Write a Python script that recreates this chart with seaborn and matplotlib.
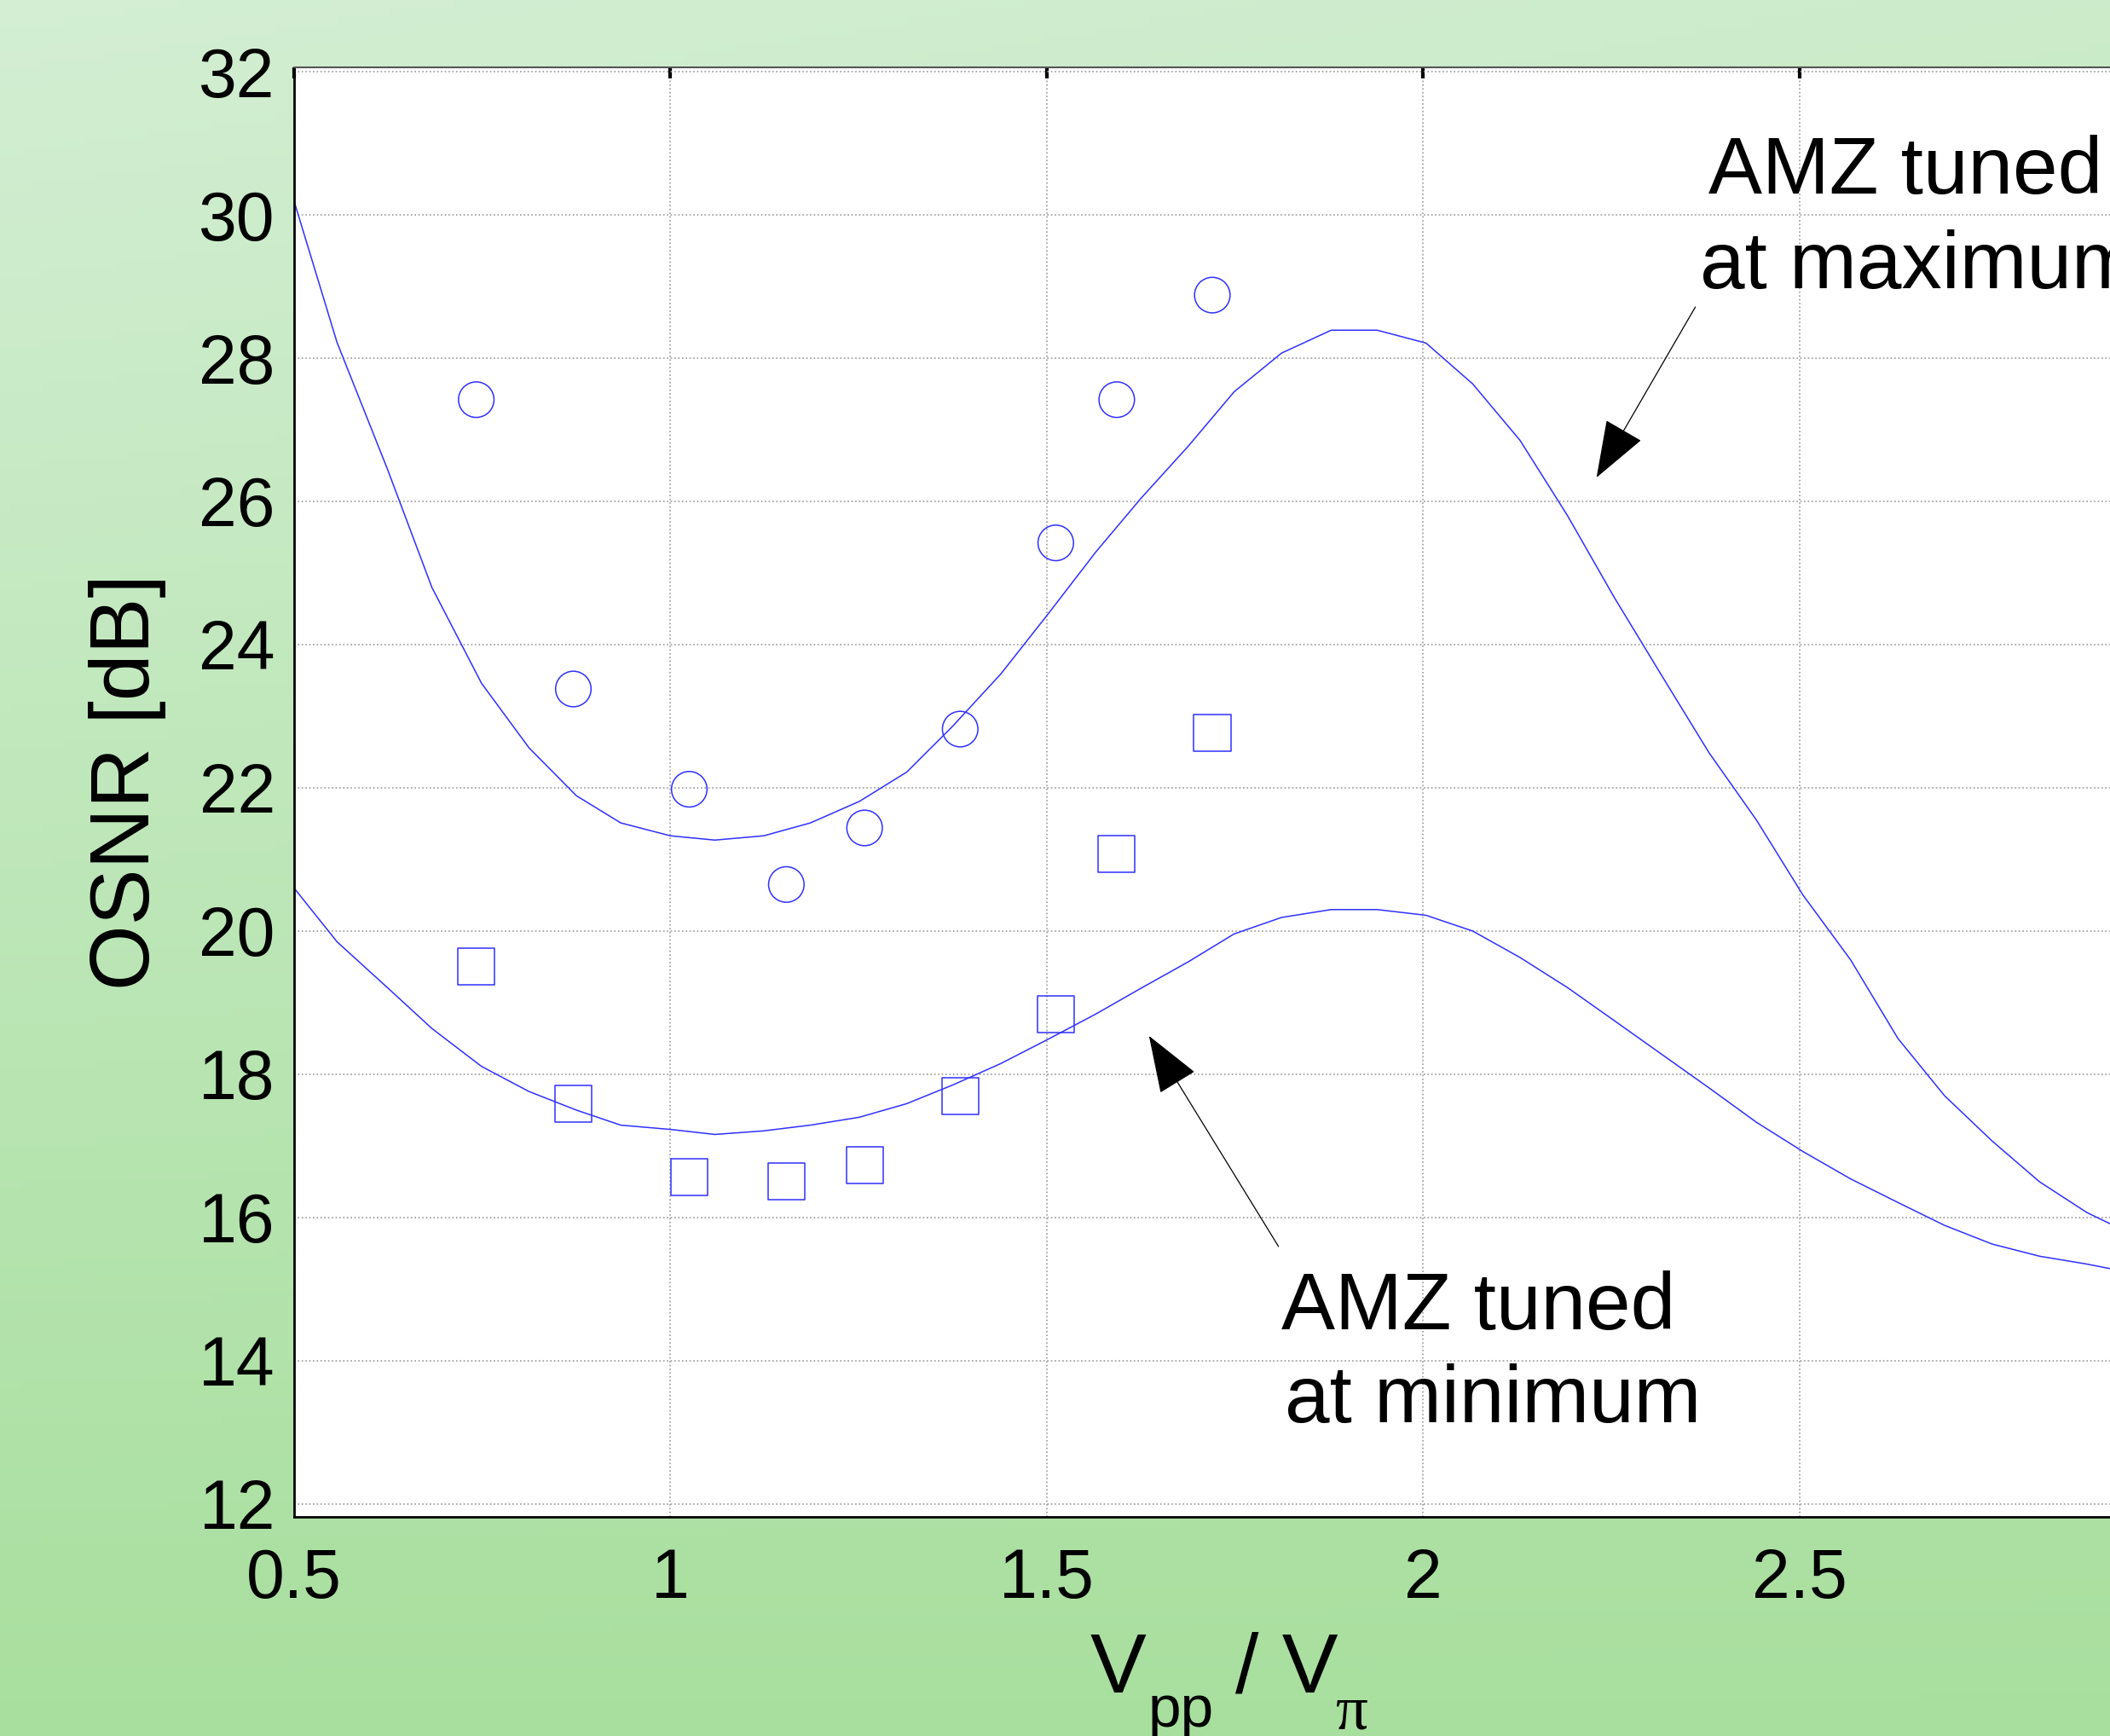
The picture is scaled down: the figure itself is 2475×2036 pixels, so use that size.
import numpy as np
import pandas as pd
import matplotlib
matplotlib.use("Agg")
import matplotlib.pyplot as plt
import seaborn as sns

# 数据：OSNR 与 Vpp/Vπ
x_meas = [0.742, 0.871, 1.025, 1.154, 1.258, 1.385, 1.512, 1.593, 1.720]
osnr_max_meas = [27.42, 23.38, 21.98, 20.65, 21.44, 22.82, 25.42, 27.42, 28.88]  # 圆圈
osnr_min_meas = [19.51, 17.59, 16.56, 16.50, 16.73, 17.70, 18.84, 21.08, 22.77]  # 方块

x_sim = [0.500, 0.557, 0.624, 0.683, 0.749, 0.812, 0.875, 0.934, 1.000, 1.059,
         1.124, 1.186, 1.251, 1.314, 1.375, 1.439, 1.502, 1.565, 1.625, 1.688,
         1.749, 1.812, 1.878, 1.939, 2.004, 2.066, 2.129, 2.192, 2.254, 2.317,
         2.380, 2.443, 2.505, 2.568, 2.631, 2.693, 2.756, 2.819, 2.882, 2.945, 3.000]
osnr_max_sim = [30.19, 28.22, 26.45, 24.80, 23.46, 22.56, 21.89, 21.51, 21.33, 21.27,
                21.33, 21.51, 21.81, 22.22, 22.86, 23.59, 24.43, 25.29, 26.04, 26.77,
                27.53, 28.07, 28.39, 28.39, 28.21, 27.64, 26.85, 25.80, 24.66, 23.57,
                22.49, 21.55, 20.50, 19.60, 18.50, 17.70, 17.07, 16.50, 16.07, 15.75, 15.55]
osnr_min_sim = [20.60, 19.85, 19.21, 18.64, 18.11, 17.76, 17.50, 17.29, 17.23, 17.16,
                17.21, 17.29, 17.40, 17.59, 17.85, 18.15, 18.49, 18.84, 19.20, 19.57,
                19.96, 20.19, 20.30, 20.30, 20.22, 20.00, 19.63, 19.21, 18.75, 18.28,
                17.81, 17.33, 16.92, 16.54, 16.21, 15.89, 15.63, 15.46, 15.35, 15.22, 15.15]

x_ticks = [0.5, 1, 1.5, 2, 2.5, 3]
x_ticklabels = ["0.5", "1", "1.5", "2", "2.5", ""]
y_ticks = list(range(12, 33, 2))

W, H = 2475, 2036
blue = "#3030ff"

sns.set_style("white")
plt.rcParams["font.family"] = ["Liberation Sans", "DejaVu Sans"]
plt.rcParams["text.color"] = "black"
plt.rcParams["axes.labelcolor"] = "black"
plt.rcParams["xtick.color"] = "black"
plt.rcParams["ytick.color"] = "black"

fig = plt.figure(figsize=(W / 100, H / 100), dpi=100)

# 背景渐变
bg = fig.add_axes([0, 0, 1, 1], zorder=-10)
yy, xx = np.mgrid[0:1:200j, 0:1:200j]
t = np.clip(yy + 0.18 * xx * (1 - yy), 0, 1)
top = np.array([0.83, 0.935, 0.83])
bot = np.array([0.66, 0.875, 0.62])
img = top[None, None, :] * (1 - t[..., None]) + bot[None, None, :] * t[..., None]
bg.imshow(img, aspect="auto", extent=[0, 1, 0, 1], origin="upper")
bg.axis("off")

# 主坐标轴（右侧超出画布）
ax = fig.add_axes([345 / W, 1 - 1779 / H, 2207 / W, 1700 / H])
ax.set_facecolor("white")

sim = pd.DataFrame({"x": x_sim, "max": osnr_max_sim, "min": osnr_min_sim})
meas = pd.DataFrame({"x": x_meas, "max": osnr_max_meas, "min": osnr_min_meas})

sns.lineplot(data=sim, x="x", y="max", ax=ax, color=blue, lw=1.1, sort=False)
sns.lineplot(data=sim, x="x", y="min", ax=ax, color=blue, lw=1.1, sort=False)
sns.scatterplot(data=meas, x="x", y="max", ax=ax, marker="o", s=900,
                facecolors="none", edgecolor=blue, linewidth=1.1)
sns.scatterplot(data=meas, x="x", y="min", ax=ax, marker="s", s=960,
                facecolors="none", edgecolor=blue, linewidth=1.1)

ax.set_xlim(0.5, 3.0)
ax.set_ylim(11.82, 32.06)
ax.set_xticks(x_ticks)
ax.set_xticklabels(x_ticklabels)
ax.set_yticks(y_ticks)
ax.grid(True, color="#9a9a9a", linestyle=":", linewidth=1.2)
ax.tick_params(axis="both", direction="in", length=9, width=3, color="black",
               labelsize=58, labelcolor="black", top=True, right=False)
ax.tick_params(axis="x", pad=26)
ax.tick_params(axis="y", pad=16)
for s in ["left", "bottom"]:
    ax.spines[s].set_color("black")
    ax.spines[s].set_linewidth(2)
ax.spines["top"].set_color("#555555")
ax.spines["top"].set_linewidth(1.5)
ax.spines["right"].set_visible(False)

ax.set_xlabel("")
ax.set_ylabel("OSNR [dB]", fontsize=71, va="center", color="black")
ax.yaxis.set_label_coords((150 - 345) / 2207, (1779 - 917) / 1700)

# x 轴标题 V_pp / V_π
fig.text(1279 / W, 1 - 1985 / H, "V", fontsize=71, ha="left", va="baseline")
fig.text(1347 / W, 1 - 2025 / H, "pp", fontsize=50, ha="left", va="baseline")
fig.text(1449 / W, 1 - 1985 / H, "/ V", fontsize=71, ha="left", va="baseline")
fig.text(1567 / W, 1 - 2028 / H, "π", fontsize=54, ha="left", va="baseline",
         family=["Liberation Serif", "DejaVu Serif"])

# 注释
arrow = dict(arrowstyle="-|>,head_length=2.2,head_width=0.8", color="black",
             lw=0.9, shrinkA=0, shrinkB=0, mutation_scale=20)
ax.annotate("", xy=(2.2305, 26.333), xytext=(2.3618, 28.714), arrowprops=arrow)
ax.annotate("", xy=(1.6359, 18.536), xytext=(1.808, 15.595), arrowprops=arrow)
ax.text(0.5 + (2004 - 345) / 883, 30.298, "AMZ tuned", fontsize=68, ha="left", va="baseline")
ax.text(0.5 + (1994 - 345) / 883, 28.976, "at maximum", fontsize=68, ha="left", va="baseline")
ax.text(0.5 + (1503 - 345) / 883, 14.44, "AMZ tuned", fontsize=68, ha="left", va="baseline")
ax.text(0.5 + (1507 - 345) / 883, 13.143, "at minimum", fontsize=68, ha="left", va="baseline")

fig.savefig("out.png", dpi=100)
